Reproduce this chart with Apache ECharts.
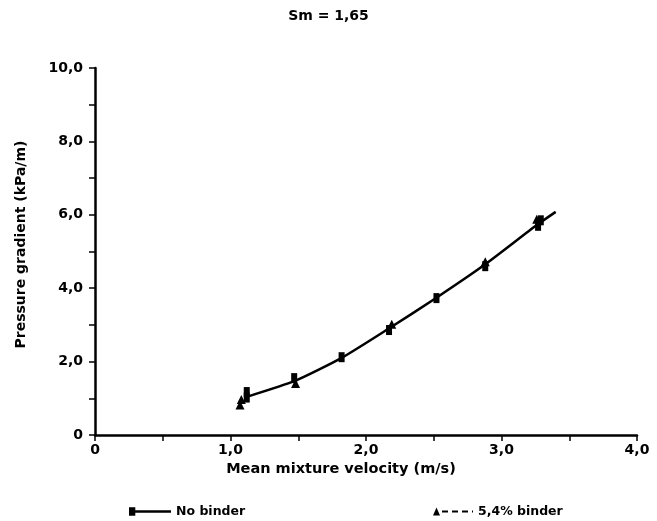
<!DOCTYPE html>
<html>
<head>
<meta charset="utf-8">
<script src="https://cdn.jsdelivr.net/npm/echarts@6/dist/echarts.min.js"></script>
<style>
  html, body { margin: 0; padding: 0; background: #fff; }
  #chart { width: 657px; height: 521px; }
</style>
</head>
<body>
<div id="chart"></div>
<script>
// fitted curve
const curveX = [1.12, 1.48, 1.82, 2.16, 2.52, 2.88, 3.26, 3.40];
const curveY = [1.04, 1.48, 2.10, 2.88, 3.74, 4.65, 5.72, 6.08];

// no binder (squares)
const noBinderX = [1.12, 1.12, 1.47, 1.82, 2.17, 2.52, 2.88, 3.27, 3.29];
const noBinderY = [1.17, 1.02, 1.55, 2.12, 2.86, 3.73, 4.60, 5.70, 5.85];

// 5,4% binder (triangles)
const binderX = [1.07, 1.08, 1.48, 2.19, 2.88, 3.26];
const binderY = [0.82, 0.97, 1.40, 3.02, 4.72, 5.88];

const xLabels = { 0: '0', 1: '1,0', 2: '2,0', 3: '3,0', 4: '4,0' };

const pairs = (xs, ys) => xs.map((x, i) => [x, ys[i]]);

const font = 'DejaVu Sans, sans-serif';
const txt = { color: '#000', fontFamily: font, fontSize: 14, fontWeight: 'bold' };

// legend icons: marker at the left end of the line, like the original key
const iconSolid = 'path://M0,1H6V9H0Z M6,3.8H40V6.2H6Z';
const iconDashed = 'path://M0,9L3.5,1L7,9Z M9,4H15V6H9Z M19,4H25V6H19Z M29,4H35V6H29Z M39,4H40V6H39Z';

const myChart = echarts.init(document.getElementById('chart'));
const option = {
  backgroundColor: '#fff',
  animation: false,
  title: {
    text: 'Sm = 1,65',
    left: 'center',
    top: 4,
    textStyle: { ...txt }
  },
  grid: { left: 95, right: 20, top: 68, bottom: 86 },
  legend: [
    {
      left: 124,
      top: 500,
      itemWidth: 42,
      itemHeight: 10,
      itemStyle: { color: '#000', opacity: 1 },
      textStyle: { ...txt, fontSize: 12.5 },
      data: [{ name: 'No binder', icon: iconSolid }]
    },
    {
      left: 428,
      top: 500,
      itemWidth: 40,
      itemHeight: 10,
      itemStyle: { color: '#000', opacity: 1 },
      textStyle: { ...txt, fontSize: 12.5 },
      data: [{ name: '5,4% binder', icon: iconDashed }]
    }
  ],
  xAxis: {
    type: 'value',
    min: 0,
    max: 4,
    interval: 0.5,
    name: 'Mean mixture velocity (m/s)',
    nameLocation: 'middle',
    nameGap: 27,
    nameTextStyle: { ...txt, fontSize: 14.5, padding: [0, 50, 0, 0] },
    splitLine: { show: false },
    axisLine: { lineStyle: { color: '#000', width: 2.5 } },
    axisTick: { inside: false, length: 6, lineStyle: { color: '#000', width: 1.5 } },
    axisLabel: {
      ...txt,
      margin: 8,
      formatter: v => (v in xLabels ? xLabels[v] : '')
    }
  },
  yAxis: {
    type: 'value',
    min: 0,
    max: 10,
    interval: 1,
    name: 'Pressure gradient (kPa/m)',
    nameLocation: 'middle',
    nameGap: 67,
    nameTextStyle: { ...txt, padding: [0, 0, 0, 14] },
    splitLine: { show: false },
    axisLine: { show: true, lineStyle: { color: '#000', width: 2.5 } },
    axisTick: { show: true, inside: false, length: 6, lineStyle: { color: '#000', width: 1.5 } },
    axisLabel: {
      ...txt,
      margin: 12,
      formatter: v => (v === 0 ? '0' : v % 2 === 0 ? v.toFixed(1).replace('.', ',') : '')
    }
  },
  series: [
    {
      name: 'fit',
      type: 'line',
      smooth: 0.2,
      symbol: 'none',
      lineStyle: { color: '#000', width: 2.5 },
      data: pairs(curveX, curveY),
      z: 2
    },
    {
      name: 'No binder',
      type: 'scatter',
      symbol: 'rect',
      symbolSize: [6, 10],
      itemStyle: { color: '#000', opacity: 1 },
      data: pairs(noBinderX, noBinderY),
      z: 3
    },
    {
      name: '5,4% binder',
      type: 'scatter',
      symbol: 'triangle',
      symbolSize: 9,
      itemStyle: { color: '#000', opacity: 1 },
      data: pairs(binderX, binderY),
      z: 3
    }
  ]
};
myChart.setOption(option);
</script>
</body>
</html>
